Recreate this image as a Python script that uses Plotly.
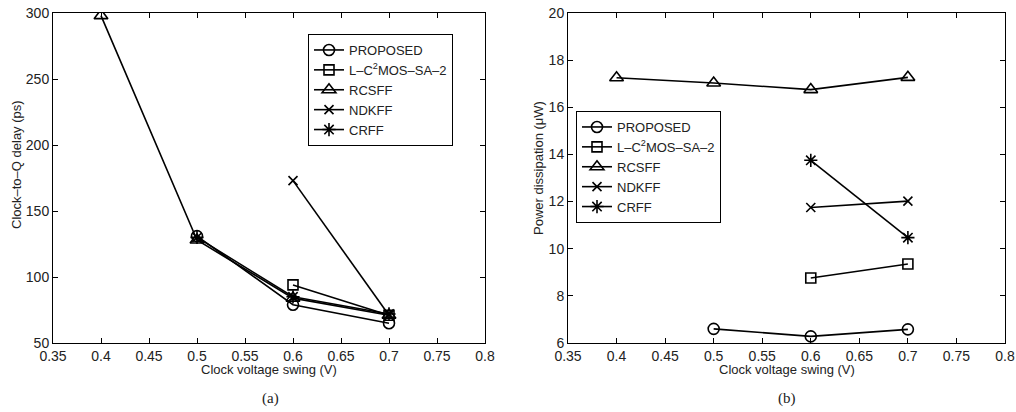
import plotly.graph_objects as go

# ---------------- data ----------------
names = ["PROPOSED", "L–C<sup>2</sup>MOS–SA–2", "RCSFF", "NDKFF", "CRFF"]
symbols = ["circle-open", "square-open", "triangle-up-open", "x-thin-open", "asterisk-open"]
msizes = [11, 10, 12, 9, 11]

# (a) Clock-to-Q delay (ps)
delay_x = {
    "PROPOSED": [0.5, 0.6, 0.7],
    "L-C2MOS": [0.6, 0.7],
    "RCSFF": [0.4, 0.5, 0.6, 0.7],
    "NDKFF": [0.6, 0.7],
    "CRFF": [0.5, 0.6, 0.7],
}
delay_y = {
    "PROPOSED": [131, 79, 65],
    "L-C2MOS": [94, 71],
    "RCSFF": [298, 128, 84, 71],
    "NDKFF": [173, 71],
    "CRFF": [130, 85, 72],
}

# (b) Power dissipation (uW)
power_x = {
    "PROPOSED": [0.5, 0.6, 0.7],
    "L-C2MOS": [0.6, 0.7],
    "RCSFF": [0.4, 0.5, 0.6, 0.7],
    "NDKFF": [0.6, 0.7],
    "CRFF": [0.6, 0.7],
}
power_y = {
    "PROPOSED": [6.6, 6.28, 6.58],
    "L-C2MOS": [8.76, 9.35],
    "RCSFF": [17.25, 17.03, 16.75, 17.27],
    "NDKFF": [11.75, 12.02],
    "CRFF": [13.75, 10.47],
}
keys = ["PROPOSED", "L-C2MOS", "RCSFF", "NDKFF", "CRFF"]

W, H = 1016, 412
FONT = "Liberation Sans, Arial, Helvetica, sans-serif"
SERIF = "Liberation Serif, Times New Roman, serif"

fig = go.Figure()
for i, k in enumerate(keys):
    fig.add_trace(go.Scatter(
        x=delay_x[k], y=delay_y[k], name=names[i], mode="lines+markers",
        line=dict(color="black", width=1.6),
        marker=dict(symbol=symbols[i], size=msizes[i], color="black",
                    line=dict(color="black", width=1.6)),
        xaxis="x", yaxis="y", legend="legend"))
for i, k in enumerate(keys):
    fig.add_trace(go.Scatter(
        x=power_x[k], y=power_y[k], name=names[i], mode="lines+markers",
        line=dict(color="black", width=1.6),
        marker=dict(symbol=symbols[i], size=msizes[i], color="black",
                    line=dict(color="black", width=1.6)),
        xaxis="x2", yaxis="y2", legend="legend2"))

def xd(a, b):
    return [a / W, b / W]

def yd(top, bot):
    return [1 - bot / H, 1 - top / H]

axcommon = dict(showgrid=False, zeroline=False, showline=True, linecolor="black",
                linewidth=1, mirror="ticks", ticks="inside", ticklen=5,
                tickcolor="black", automargin=False,
                tickfont=dict(size=14, color="#222", family=FONT))

def ann(text, x, y, size=13, family=FONT, angle=0):
    return dict(text=text, x=x / W, y=1 - y / H, xref="paper", yref="paper",
                showarrow=False, textangle=angle, xanchor="center", yanchor="middle",
                font=dict(size=size, family=family, color="#222"))

legfont = dict(size=13, family=FONT, color="#222")

fig.update_layout(
    width=W, height=H, margin=dict(l=0, r=0, t=0, b=0),
    paper_bgcolor="white", plot_bgcolor="white",
    font=dict(family=FONT, color="#222"),
    xaxis=dict(domain=xd(53, 485), range=[0.35, 0.8], tick0=0.35, dtick=0.05,
               anchor="y", **axcommon),
    yaxis=dict(domain=yd(13, 343), range=[50, 300], dtick=50, anchor="x", **axcommon),
    xaxis2=dict(domain=xd(568, 1005), range=[0.35, 0.8], tick0=0.35, dtick=0.05,
                anchor="y2", **axcommon),
    yaxis2=dict(domain=yd(13, 343), range=[6, 20], dtick=2, anchor="x2", **axcommon),
    legend=dict(x=308 / W, y=1 - 34 / H, xanchor="left", yanchor="top",
                bordercolor="black", borderwidth=1, bgcolor="white",
                font=legfont, tracegroupgap=0, itemwidth=30),
    legend2=dict(x=576 / W, y=1 - 111 / H, xanchor="left", yanchor="top",
                 bordercolor="black", borderwidth=1, bgcolor="white",
                 font=legfont, tracegroupgap=0, itemwidth=30),
    annotations=[
        ann("Clock voltage swing (V)", 269, 369),
        ann("Clock voltage swing (V)", 787, 369),
        ann("Clock–to–Q delay (ps)", 17, 165, angle=-90),
        ann("Power dissipation (μW)", 538, 168, angle=-90),
        ann("(a)", 270, 398, size=15, family=SERIF),
        ann("(b)", 787, 398, size=15, family=SERIF),
    ],
)

fig.write_html("out.html", config={"displayModeBar": False},
               post_script="document.body.style.margin='0';document.body.style.padding='0';")
